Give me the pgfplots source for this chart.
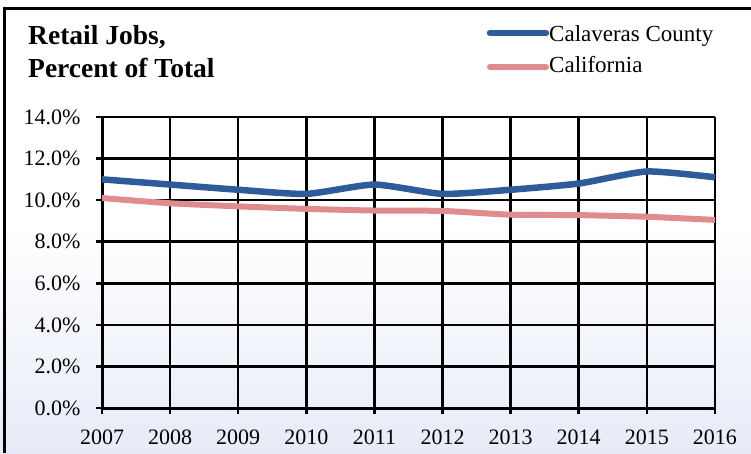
\documentclass[border=0pt]{standalone}
\usepackage{pgfplots}
\pgfplotsset{compat=1.18}
\usepackage{fontspec}
\setmainfont{Liberation Serif}
\definecolor{cblue}{RGB}{46,92,154}
\definecolor{cred}{RGB}{224,140,140}
\definecolor{bgb}{RGB}{230,235,247}
\begin{document}
\begin{tikzpicture}[x=1pt,y=1pt]
\useasboundingbox (0,0) rectangle (751,453);
\shade[top color=white, bottom color=bgb, middle color=white] (0,0) rectangle (751,453);
\draw[line width=3pt] (4,0) -- (4,444.5) -- (751,444.5);
\begin{axis}[
  at={(102pt,45pt)}, anchor=south west,
  scale only axis, width=613pt, height=291pt,
  xmin=2007, xmax=2016, ymin=0, ymax=14,
  xtick={2007,...,2016}, ytick={0,2,...,14},
  xticklabel style={/pgf/number format/1000 sep=},
  yticklabel={\pgfmathprintnumber[fixed,fixed zerofill,precision=1]{\tick}\%},
  /pgf/number format/assume math mode=true,
  tick label style={font=\fontsize{22}{24}\selectfont},
  grid=major, grid style={black, line width=2.6pt},
  axis line style={black, line width=3pt},
  axis x line*=bottom, axis y line*=left,
  tick style={black, line width=2.6pt},
  xtick align=outside, ytick align=outside,
  major tick length=6pt,
  x tick label style={anchor=base, yshift=-30pt},
  y tick label style={anchor=east, xshift=-12pt},
  clip=false,
]
\addplot[cblue, line width=6.5pt, smooth, tension=0.35] coordinates {
(2007,11.0) (2008,10.75) (2009,10.5) (2010,10.3) (2011,10.75) (2012,10.3) (2013,10.5) (2014,10.8) (2015,11.38) (2016,11.1)};
\addplot[cred, line width=6pt, smooth, tension=0.35] coordinates {
(2007,10.1) (2008,9.85) (2009,9.7) (2010,9.58) (2011,9.5) (2012,9.48) (2013,9.3) (2014,9.28) (2015,9.2) (2016,9.05)};
\end{axis}
\node[anchor=base west, font=\bfseries\fontsize{27.5}{28}\selectfont, inner sep=0] at (28,408) {Retail Jobs,};
\node[anchor=base west, font=\bfseries\fontsize{27.5}{28}\selectfont, inner sep=0] at (28,375) {Percent of Total};
\draw[cblue, line width=6.5pt, line cap=round] (490,420) -- (546,420);
\draw[cred, line width=6pt, line cap=round] (490,386) -- (546,386);
\node[anchor=base west, font=\fontsize{23}{24}\selectfont, inner sep=0] at (549,411) {Calaveras County};
\node[anchor=base west, font=\fontsize{23}{24}\selectfont, inner sep=0] at (549,380) {California};
\end{tikzpicture}
\end{document}
